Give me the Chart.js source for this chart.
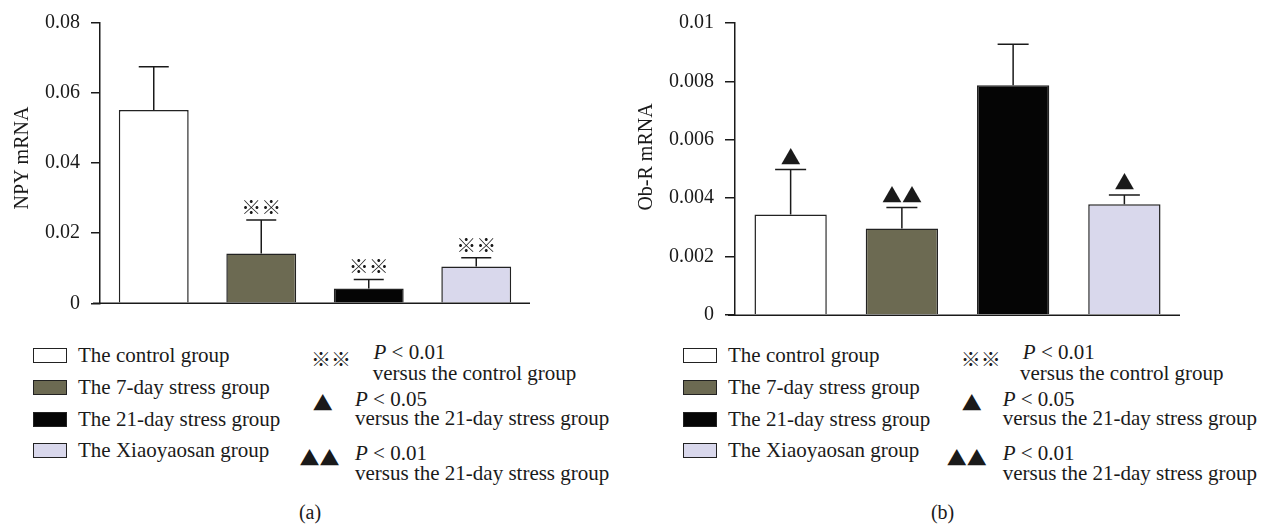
<!DOCTYPE html>
<html>
<head>
<meta charset="utf-8">
<script src="https://cdn.jsdelivr.net/npm/chart.js@4.4.1/dist/chart.umd.min.js"></script>
<style>
  html, body { margin: 0; padding: 0; background: #ffffff; }
  body { width: 1269px; height: 527px; position: relative; overflow: hidden;
         font-family: "Liberation Serif", serif; color: #1a1a1a; }
  canvas { position: absolute; top: 0; }
  #npyChart { left: 0; }
  #obrChart { left: 620px; }
  .txt { position: absolute; font-size: 21px; line-height: 21px; white-space: nowrap; }
  .box { position: absolute; width: 32px; height: 13px; border: 1px solid #222; }
  .sym { position: absolute; font-family: "Noto Sans CJK SC", sans-serif; font-size: 20px;
         line-height: 20px; white-space: nowrap; transform: translate(-50%, -50%); }
  .cap { position: absolute; font-size: 20px; line-height: 20px; transform: translateX(-50%); }
</style>
</head>
<body>
<canvas id="npyChart" width="620" height="330"></canvas>
<canvas id="obrChart" width="649" height="340"></canvas>
<div id="legends"></div>
<script>
// Groups and their bar colours
const groups = ['The control group', 'The 7-day stress group', 'The 21-day stress group', 'The Xiaoyaosan group'];
const groupColors = ['#ffffff', '#6c6a52', '#050505', '#d9d8ec'];

// (a) NPY mRNA: means, error (upper SD) and significance marks
const npyMeans = [0.0552, 0.0142, 0.0042, 0.0105];
const npyErrors = [0.0123, 0.0096, 0.0026, 0.0025];
const npyMarks = ['', '※※', '※※', '※※'];
const npyTicks = ['0', '0.02', '0.04', '0.06', '0.08'];

// (b) Ob-R mRNA
const obrMeans = [0.00344, 0.00296, 0.00787, 0.00379];
const obrErrors = [0.00154, 0.00072, 0.00140, 0.00032];
const obrMarks = ['▲', '▲▲', '', '▲'];
const obrTicks = ['0', '0.002', '0.004', '0.006', '0.008', '0.01'];

// Significance key
const keySymbols = ['※※', '▲', '▲▲'];
const keyPValues = ['< 0.01', '< 0.05', '< 0.01'];
const keyVersus = ['versus the control group', 'versus the 21-day stress group', 'versus the 21-day stress group'];

const INK = '#1a1a1a';
const SERIF = '"Liberation Serif", serif';

// Error bars, significance marks, the x baseline and the rotated y title
function makeOverlay(errors, marks, capWidth, title) {
  return {
    id: 'overlay',
    afterDatasetsDraw(chart) {
      const ctx = chart.ctx;
      const y = chart.scales.y;
      const area = chart.chartArea;
      const values = chart.data.datasets[0].data;
      const meta = chart.getDatasetMeta(0);
      ctx.save();
      ctx.strokeStyle = INK;
      ctx.fillStyle = INK;
      ctx.lineWidth = 1.5;
      // baseline, running slightly left of the y axis
      const y0 = Math.round(y.getPixelForValue(0)) + 0.25;
      ctx.beginPath();
      ctx.moveTo(area.left - 7, y0);
      ctx.lineTo(area.right, y0);
      ctx.stroke();
      meta.data.forEach((bar, i) => {
        const top = y.getPixelForValue(values[i] + errors[i]);
        ctx.beginPath();
        ctx.moveTo(bar.x, bar.y);
        ctx.lineTo(bar.x, top);
        ctx.moveTo(bar.x - capWidth / 2, top);
        ctx.lineTo(bar.x + capWidth / 2, top);
        ctx.stroke();
        const mark = marks[i];
        if (mark) {
          ctx.font = '20px "Noto Sans CJK SC", sans-serif';
          ctx.textAlign = 'center';
          ctx.textBaseline = 'alphabetic';
          const m = ctx.measureText(mark);
          ctx.fillText(mark, bar.x, top - 5 - m.actualBoundingBoxDescent);
        }
      });
      // y axis title
      ctx.translate(title.x, title.y);
      ctx.rotate(-Math.PI / 2);
      ctx.font = '20px ' + SERIF;
      ctx.textAlign = 'center';
      ctx.textBaseline = 'middle';
      ctx.fillText(title.text, 0, 0);
      ctx.restore();
    }
  };
}

function makeChart(id, means, errors, marks, ticks, max, step, opts) {
  return new Chart(document.getElementById(id), {
    type: 'bar',
    data: {
      labels: groups,
      datasets: [{
        data: means,
        backgroundColor: groupColors,
        borderColor: '#222222',
        borderWidth: 1.5,
        barPercentage: 0.65,
        categoryPercentage: 1
      }]
    },
    options: {
      responsive: false,
      animation: false,
      devicePixelRatio: 1,
      layout: { padding: opts.padding },
      plugins: { legend: { display: false }, tooltip: { enabled: false } },
      scales: {
        x: { display: false, offset: true },
        y: {
          min: 0,
          max: max,
          ticks: {
            stepSize: step,
            padding: 11,
            color: INK,
            font: { family: SERIF, size: 20 },
            callback: (v, i) => ticks[i]
          },
          grid: { drawOnChartArea: false, tickLength: opts.tickLength, color: INK, lineWidth: 1.5 },
          border: { color: INK, width: 1.5 },
          afterFit(scale) { scale.width = opts.axisWidth; }
        }
      }
    },
    plugins: [makeOverlay(errors, marks, opts.capWidth, opts.title)]
  });
}

makeChart('npyChart', npyMeans, npyErrors, npyMarks, npyTicks, 0.08, 0.02,
  { padding: { left: 0, top: 15, right: 90, bottom: 26.7 }, axisWidth: 100, tickLength: 9, capWidth: 30,
    title: { text: 'NPY mRNA', x: 22.4, y: 158 } });
makeChart('obrChart', obrMeans, obrErrors, obrMarks, obrTicks, 0.01, 0.002,
  { padding: { left: 0, top: 20.7, right: 89, bottom: 25 }, axisWidth: 115, tickLength: 10, capWidth: 31,
    title: { text: 'Ob-R mRNA', x: 27, y: 157 } });

// Legend and significance key under each panel
function addLegend(x0, captionX, caption) {
  const host = document.getElementById('legends');
  const add = (cls, html, style) => {
    const el = document.createElement('div');
    el.className = cls;
    el.innerHTML = html;
    Object.assign(el.style, style);
    host.appendChild(el);
    return el;
  };
  const rowBase = [362.7, 394.4, 426.1, 457.8];
  groups.forEach((g, i) => {
    add('box', '', { left: (x0.box) + 'px', top: (rowBase[i] - 14.4) + 'px', background: groupColors[i] });
    add('txt', g, { left: x0.text + 'px', top: (rowBase[i] - 17.6) + 'px' });
  });
  keySymbols.forEach((s, i) => {
    const k = x0.key[i];
    add('sym', s, { left: k.sx + 'px', top: k.sy + 'px' });
    add('txt', '<i>P</i> ' + keyPValues[i], { left: k.px + 'px', top: (k.pb - 17.6) + 'px' });
    add('txt', keyVersus[i], { left: k.vx + 'px', top: (k.vb - 17.6) + 'px' });
  });
  add('cap', caption, { left: captionX + 'px', top: '502px' });
}

addLegend({ box: 33, text: 78, key: [
  { sx: 331, sy: 359, px: 373.5, pb: 360, vx: 372.7, vb: 381 },
  { sx: 322.7, sy: 402.5, px: 355, pb: 406.5, vx: 355, vb: 426 },
  { sx: 319.4, sy: 457.5, px: 355, pb: 461, vx: 355, vb: 481 }
] }, 310, '(a)');
addLegend({ box: 683, text: 728, key: [
  { sx: 980.7, sy: 359, px: 1022.8, pb: 360, vx: 1020, vb: 381 },
  { sx: 971.7, sy: 402.5, px: 1002.7, pb: 406.5, vx: 1002.7, vb: 426 },
  { sx: 966.7, sy: 457.5, px: 1002.7, pb: 461, vx: 1002.7, vb: 481 }
] }, 942.6, '(b)');
</script>
</body>
</html>
